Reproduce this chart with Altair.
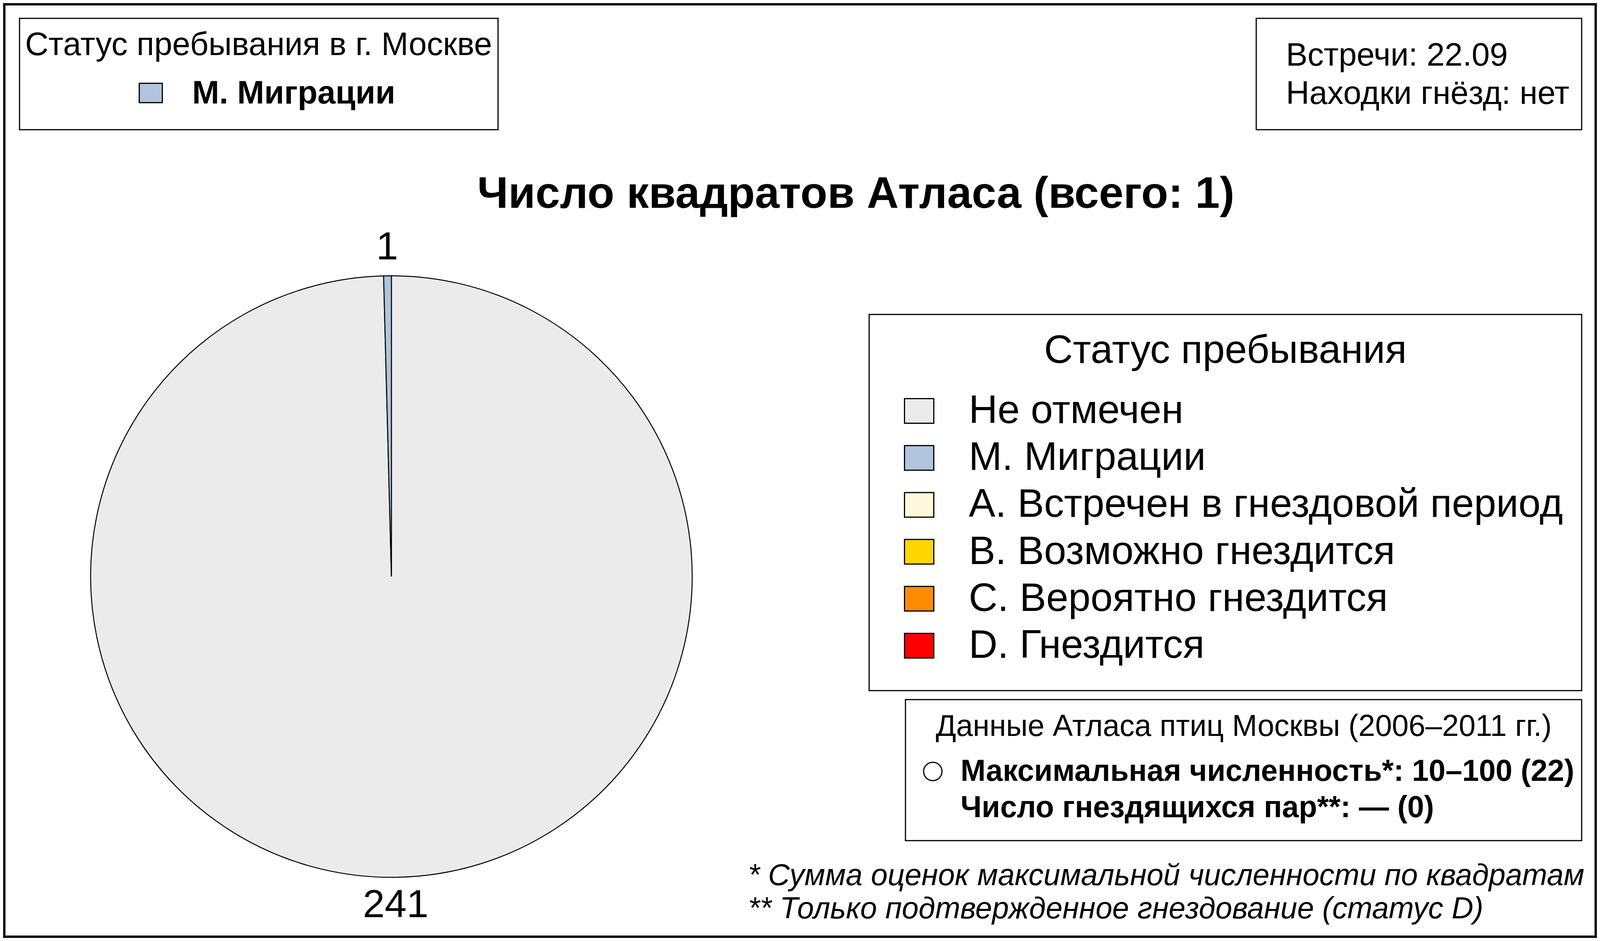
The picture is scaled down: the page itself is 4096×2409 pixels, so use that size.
import altair as alt
import pandas as pd

# ---------------- data ----------------
categories = ["Не отмечен", "M. Миграции", "A. Встречен в гнездовой период",
              "B. Возможно гнездится", "C. Вероятно гнездится", "D. Гнездится"]
colors = ["#ebebeb", "#b0c4de", "#fff8dc", "#ffd700", "#ff8c00", "#ff0000"]
square_counts = [241, 1, 0, 0, 0, 0]
city_status = "M. Миграции"
city_title = "Статус пребывания в г. Москве"
info_lines = ["Встречи: 22.09", "Находки гнёзд: нет"]
chart_title = "Число квадратов Атласа (всего: 1)"
legend_title = "Статус пребывания"
atlas_header = "Данные Атласа птиц Москвы (2006–2011 гг.)"
atlas_lines = ["Максимальная численность*: 10–100 (22)", "Число гнездящихся пар**: — (0)"]
footnotes = ["* Сумма оценок максимальной численности по квадратам",
             "** Только подтвержденное гнездование (статус D)"]

# ---------------- layout ----------------
W, H = 4080, 2393
FONT = "Liberation Sans"
TITLE = 113
LEG = 102
PIE = 101
TOP = 83
DATA = 77
FOOT = 77
CX, CY, R = 994, 1468, 770
SWATCH = "M-1,-0.84H1V0.84H-1Z"

pie_df = pd.DataFrame({"status": categories, "count": square_counts,
                       "ord": list(range(len(categories)))})
leg_df = pd.DataFrame({"status": categories})
one = pd.DataFrame({"a": [0]})

color_scale = alt.Scale(domain=categories, range=colors)


def box(x1, y1, x2, y2, sw=3):
    return alt.Chart(one).mark_rect(fill="transparent", stroke="black", strokeWidth=sw).encode(
        x=alt.value(x1), x2=alt.value(x2), y=alt.value(y1), y2=alt.value(y2))


def label(txt, x, y, size, align="left", weight="normal", style="normal"):
    return alt.Chart(one).mark_text(font=FONT, fontSize=size, align=align, baseline="middle",
                                    fontWeight=weight, fontStyle=style, color="black").encode(
        x=alt.value(x), y=alt.value(y), text=alt.value(txt))


pie = alt.Chart(pie_df).transform_filter("datum.count > 0").mark_arc(
    stroke="black", strokeWidth=2.5, radius=R).encode(
    theta=alt.Theta("count:Q", stack=True),
    color=alt.Color("status:N", scale=color_scale, legend=None),
    order=alt.Order("ord:Q", sort="ascending"),
    x=alt.value(CX), y=alt.value(CY))

pie_text = alt.Chart(pie_df).transform_filter("datum.count > 0").mark_text(
    font=FONT, fontSize=PIE, radius=842, color="black").encode(
    theta=alt.Theta("count:Q", stack=True),
    order=alt.Order("ord:Q", sort="ascending"),
    text=alt.Text("count:Q"),
    x=alt.value(CX), y=alt.value(CY))

yscale = alt.Scale(type="point", range=[1044, 1645], padding=0)
leg_sw = alt.Chart(leg_df).mark_point(shape=SWATCH, size=75 * 75, filled=True, opacity=1,
                                      stroke="black", strokeWidth=3).encode(
    x=alt.value(2345),
    y=alt.Y("status:N", sort=categories, scale=yscale, axis=None),
    fill=alt.Color("status:N", scale=color_scale, legend=None))
leg_lab = alt.Chart(leg_df).mark_text(font=FONT, fontSize=LEG, align="left", baseline="middle",
                                      color="black").encode(
    x=alt.value(2472),
    y=alt.Y("status:N", sort=categories, scale=yscale, axis=None),
    text="status:N")

city_sw = alt.Chart(pd.DataFrame({"status": [city_status]})).mark_point(
    shape=SWATCH, size=59 * 59, filled=True, opacity=1, stroke="black", strokeWidth=3).encode(
    x=alt.value(378), y=alt.value(230),
    fill=alt.Color("status:N", scale=color_scale, legend=None))

circle = alt.Chart(one).mark_point(shape="circle", size=47 * 47, filled=False, stroke="black",
                                   strokeWidth=3, opacity=1).encode(
    x=alt.value(2380), y=alt.value(1967))

layers = [
    box(3, 3, W - 3, H - 3, sw=6),
    box(42, 39, 1267, 324),
    box(3208, 39, 4041, 324),
    box(2217, 797, 4041, 1760),
    box(2310, 1783, 4041, 2144),
    pie, pie_text,
    label(city_title, 654, 108, TOP, "center"),
    city_sw,
    label(city_status, 484, 232, TOP, "left", "bold"),
    label(info_lines[0], 3284, 135, TOP),
    label(info_lines[1], 3284, 233, TOP),
    label(chart_title, 2183, 490, TITLE, "center", "bold"),
    label(legend_title, 3129, 890, LEG, "center"),
    leg_sw, leg_lab,
    label(atlas_header, 3176, 1853, DATA, "center"),
    circle,
    label(atlas_lines[0], 2451, 1968, DATA, "left", "bold"),
    label(atlas_lines[1], 2451, 2061, DATA, "left", "bold"),
    label(footnotes[0], 1907, 2235, FOOT, "left", "normal", "italic"),
    label(footnotes[1], 1907, 2320, FOOT, "left", "normal", "italic"),
]

chart = alt.layer(*layers).properties(
    width=W, height=H, padding=0, autosize=alt.AutoSizeParams(type="none"),
    background="white"
).configure_view(stroke=None)

chart.save("out.html", embed_options={"renderer": "svg", "actions": False})
